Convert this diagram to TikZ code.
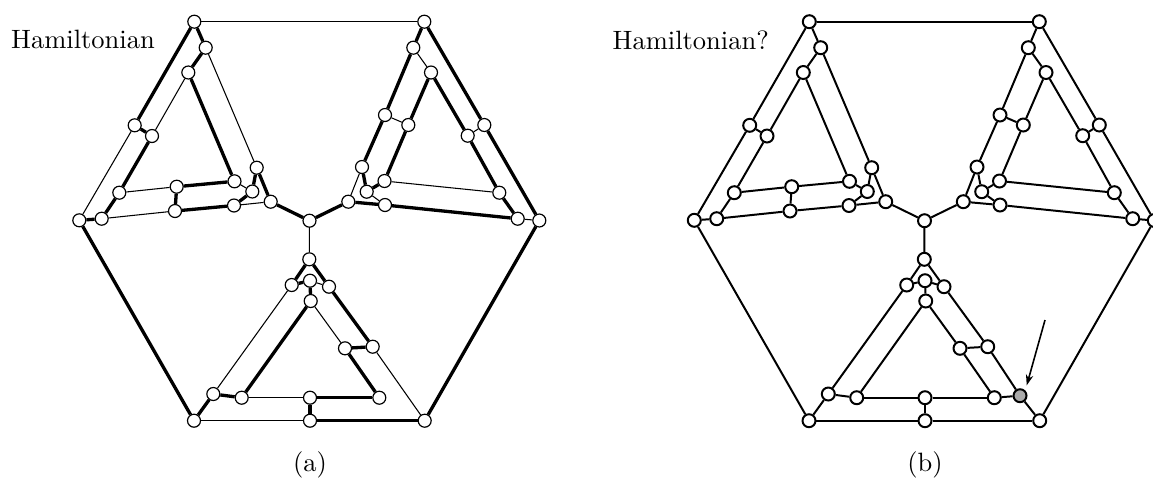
\documentclass[tikz,border=0pt]{standalone}
\usepackage{xcolor}
\usepackage{tikz}
\usetikzlibrary{arrows.meta, backgrounds}
\definecolor{markgray}{RGB}{170,170,170}

% vertex positions (px of the figure, y down)
\newcommand{\vertexlist}{TL/194.3/21.7, TR/424.3/21.7, R/539.3/220.5, BR/424.7/420.7, BL/194/420.7, L/79.3/220.3, C/309.5/220.7,
  latt/270.7/201.7, lp1/256.7/167.7, lq/252.3/191.5, lp2/234/205.5, lr/234.5/181.3, ls/176.7/186.7, lt/175/211, lu/205.7/47.7, lv/188.3/72.5, lw/152/136, lx/119.3/192.7, lg/101.7/218.7, lm/134.7/125.3,
  ratt/348.3/201.7, rp1/385/205, rq/366.7/191.7, rp2/362/167, rr/384.5/181, rs/408.3/125, rt/385/115, ru/517.7/218.7, rv/499.3/192.7, rw/467.7/135.7, rx/431/72.5, rg/413.3/47.7, rm/484.3/125,
  batt/309.3/259.3, bp1/291.7/285, bq/310/280.7, bp2/329/286.7, br/310.7/301, bs/345/348.3, bt/372.7/346.7, bu/213.3/394, bv/241.7/397.7, bw/310/397.7, bx/379.3/397.7, bm/310/420.7}
% the Hamiltonian cycle of (a)
\newcommand{\cycleedges}{C/latt, latt/lp1, lp1/lq, lq/lp2, lp2/lt, lt/ls, ls/lr, lr/lv, lv/lu, lu/TL, TL/lm, lm/lw, lw/lx, lx/lg, lg/L, L/BL,
  BL/bu, bu/bv, bv/br, br/bq, bq/bp1, bp1/batt, batt/bp2, bp2/bt, bt/bs, bs/bx, bx/bw, bw/bm, bm/BR, BR/R,
  R/rm, rm/TR, TR/rg, rg/rt, rt/rp2, rp2/rq, rq/rr, rr/rs, rs/rx, rx/rw, rw/rv, rv/ru, ru/rp1, rp1/ratt, ratt/C}
% all other edges
\newcommand{\otheredges}{TL/TR, latt/lp2, lp1/lu, lq/lr, ls/lx, lt/lg, lv/lw, lm/L,
  C/batt, BL/bm, bu/bp1, bv/bw, br/bs, bq/bp2,
  ratt/rp2, rp1/rq, ru/R, rv/rr, rw/rm, rx/rg, rs/rt}

\begin{document}
\begin{tikzpicture}[
    x=0.3774pt, y=-0.3774pt,
    vertex/.style={circle, draw=black, fill=white, inner sep=0pt, minimum size=4.9pt},
    cycleedge/.style={line width=1.25pt},
    thinedge/.style={line width=0.4pt},
    graphedge/.style={line width=0.75pt},
    arrow/.style={line width=0.6pt, -{Stealth[length=4pt, width=2.8pt]}}
]
\useasboundingbox (0,0) rectangle (1153,494);

% Vertices
\foreach \n/\x/\y in \vertexlist {
  \node[vertex, line width=0.45pt] (a-\n) at (\x,\y) {};
  \node[vertex, line width=0.75pt] (b-\n) at (\x+615,\y) {};
}
\node[vertex, line width=0.75pt, fill=markgray] (b-bg) at (1020,395.7) {};

% Edges
\begin{scope}[on background layer]
\foreach \u/\v in \cycleedges {
  \draw[cycleedge] (a-\u) -- (a-\v);
  \draw[graphedge] (b-\u) -- (b-\v);
}
\foreach \u/\v in \otheredges {
  \draw[thinedge] (a-\u) -- (a-\v);
  \draw[graphedge] (b-\u) -- (b-\v);
}
\draw[thinedge] (a-bt) -- (a-BR);
\draw[graphedge] (b-bt) -- (b-bg);
\draw[graphedge] (b-bg) -- (b-BR);
\draw[graphedge] (b-bg) -- (b-bx);
\end{scope}

% Arrow to the new vertex
\coordinate (arrowtail) at (1045,320);
\draw[arrow, shorten >=2pt] (arrowtail) -- (b-bg.45);

% Labels
\node[anchor=base west, inner sep=0pt] (labela) at (10.7,48.3) {Hamiltonian};
\node[anchor=base east, inner sep=0pt] (labelb) at (769.3,49) {Hamiltonian?};
\node (capa) at (310,465) {(a)};
\node (capb) at (925,465) {(b)};
\end{tikzpicture}
\end{document}
